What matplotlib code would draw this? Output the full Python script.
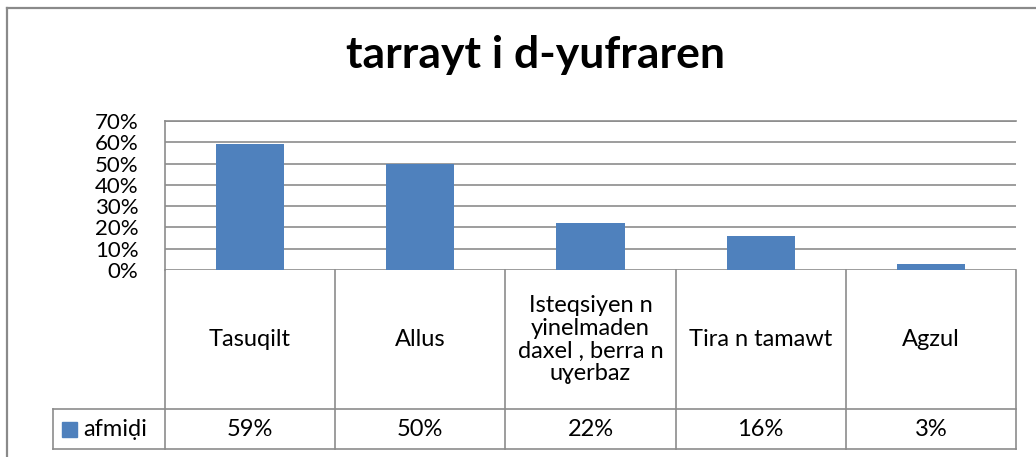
import matplotlib.pyplot as plt
from matplotlib.lines import Line2D
from matplotlib.patches import Rectangle

plt.rcParams['font.family'] = ['Lato', 'DejaVu Sans']

# data
title = "tarrayt i d-yufraren"
series_name = "afmiḍi"
categories = ["Tasuqilt", "Allus", "Isteqsiyen n\nyinelmaden\ndaxel , berra n\nuɣerbaz",
              "Tira n tamawt", "Agzul"]
values = [0.59, 0.50, 0.22, 0.16, 0.03]
value_labels = ["59%", "50%", "22%", "16%", "3%"]
yticks = [0.0, 0.1, 0.2, 0.3, 0.4, 0.5, 0.6, 0.7]

BLUE = "#4F81BD"
GRID = "#8C8C8C"
W, H = 1036, 457

fig = plt.figure(figsize=(W / 100, H / 100), dpi=100)

# outer chart border (top and left visible)
fig.add_artist(Line2D([7 / W, 7 / W], [0, 1 - 8 / H], color="#8A8A8A", lw=1.6))
fig.add_artist(Line2D([7 / W, 1], [1 - 8 / H, 1 - 8 / H], color="#8A8A8A", lw=1.6))

fig.text(535 / W, 1 - 55 / H, title, ha="center", va="center",
         fontsize=32, fontweight="bold")

# --- bars ---
left, right, top, bottom = 165, 1016, 121, 270
ax = fig.add_axes([left / W, 1 - bottom / H, (right - left) / W, (bottom - top) / H])
x = list(range(len(values)))
ax.bar(x, values, width=0.4, color=BLUE, zorder=3)
ax.set_xlim(-0.5, len(values) - 0.5)
ax.set_ylim(0, 0.7)
ax.set_yticks(yticks)
ax.set_yticklabels(["%d%%" % round(t * 100) for t in yticks], fontsize=16)
ax.tick_params(axis="y", length=0, pad=19)
ax.set_xticks([])
ax.grid(axis="y", color=GRID, lw=1.2, zorder=0)
for s in ["right", "bottom"]:
    ax.spines[s].set_visible(False)
for s in ["top", "left"]:
    ax.spines[s].set_color(GRID)
    ax.spines[s].set_linewidth(1.2)

# --- data table ---
tbottom = 449
tax = fig.add_axes([left / W, 1 - tbottom / H, (right - left) / W, (tbottom - bottom) / H])
tax.set_xlim(-0.5, len(values) - 0.5)
tax.set_ylim(0, 1)
tax.axis("off")
row_y = (tbottom - 409) / (tbottom - bottom)
col_w = (right - left) / len(values)
legend_x = -0.5 - (left - 53) / col_w

kw = dict(color=GRID, lw=1.2, clip_on=False)
for i in range(len(values) + 1):
    tax.plot([i - 0.5, i - 0.5], [0, 1], **kw)
tax.plot([legend_x, len(values) - 0.5], [0, 0], **kw)
tax.plot([legend_x, len(values) - 0.5], [row_y, row_y], **kw)
tax.plot([legend_x, legend_x], [0, row_y], **kw)

for i, (c, v) in enumerate(zip(categories, value_labels)):
    tax.text(i, (row_y + 1) / 2, c, ha="center", va="center", fontsize=17,
             linespacing=1.1)
    tax.text(i, row_y / 2, v, ha="center", va="center", fontsize=17)

sq = 15 / col_w
tax.add_patch(Rectangle((-0.5 - (left - 62) / col_w, row_y / 2 - 7.5 / (tbottom - bottom)),
                        sq, 15 / (tbottom - bottom), color=BLUE, clip_on=False))
tax.text(-0.5 - (left - 83) / col_w, row_y / 2, series_name, ha="left", va="center",
         fontsize=17)

fig.savefig("out.png", dpi=100)
